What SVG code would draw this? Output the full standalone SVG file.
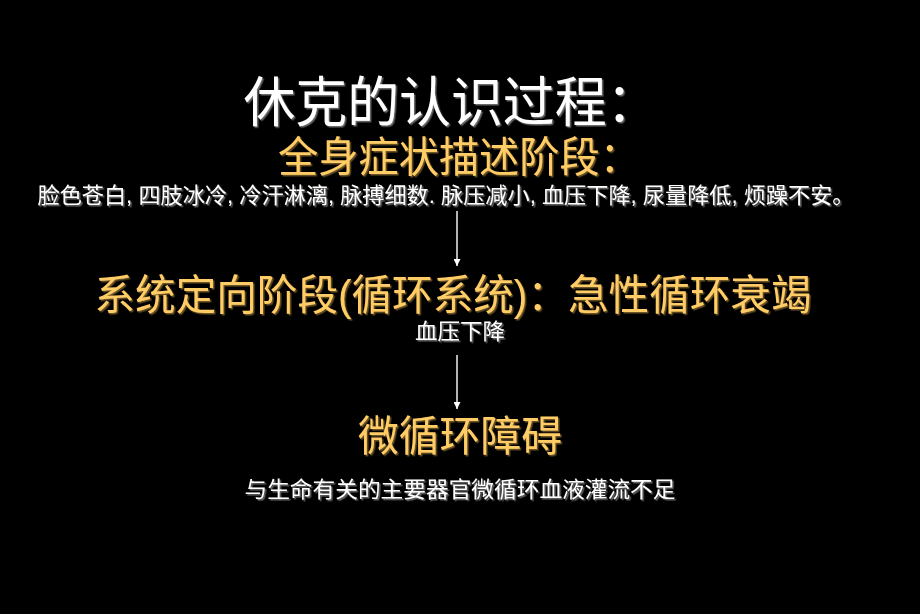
<svg xmlns="http://www.w3.org/2000/svg" width="920" height="614" viewBox="0 0 920 614">
<defs>
<style>
text{font-family:"Liberation Sans","Noto Sans CJK SC",sans-serif;text-anchor:middle}
.w{fill:#ffffff}
.o{fill:#ffcc66}
.big{font-size:42px}
.sm{font-size:22px}
.ttl{font-size:54px}
.conn{stroke:#ffffff;stroke-width:1.4;fill:none}
</style>
<filter id="sh2" x="-5%" y="-20%" width="110%" height="140%">
<feDropShadow dx="1.5" dy="1.5" stdDeviation="0.2" flood-color="#6b6b6b" flood-opacity="1"/>
</filter>
<filter id="sh3" x="-5%" y="-20%" width="110%" height="140%">
<feDropShadow dx="1.5" dy="1.5" stdDeviation="0.2" flood-color="#6b5226" flood-opacity="1"/>
</filter>
<marker id="ah" viewBox="0 0 10 10" refX="10" refY="5" markerWidth="7" markerHeight="7" markerUnits="userSpaceOnUse" orient="auto">
<path d="M0,0 L10,5 L0,10 z" fill="#ffffff"/>
</marker>
</defs>
<rect x="0" y="0" width="920" height="614" fill="#000000"/>
<g id="title">
<text class="w ttl" x="451" y="122" textLength="415" lengthAdjust="spacingAndGlyphs" filter="url(#sh2)">休克的认识过程：</text>
</g>
<g id="stage1">
<text class="o big" x="459" y="172" textLength="362" lengthAdjust="spacingAndGlyphs" filter="url(#sh3)">全身症状描述阶段：</text>
<text class="w sm" x="446" y="203" textLength="817" lengthAdjust="spacingAndGlyphs" filter="url(#sh2)">脸色苍白, 四肢冰冷, 冷汗淋漓, 脉搏细数. 脉压减小, 血压下降, 尿量降低, 烦躁不安。</text>
</g>
<g id="stage2">
<text class="o big" x="453" y="310" textLength="717" lengthAdjust="spacingAndGlyphs" filter="url(#sh3)">系统定向阶段(循环系统)：急性循环衰竭</text>
<text class="w sm" x="460" y="339" textLength="90" lengthAdjust="spacingAndGlyphs" filter="url(#sh2)">血压下降</text>
</g>
<g id="stage3">
<text class="o big" x="460" y="451" textLength="204" lengthAdjust="spacingAndGlyphs" filter="url(#sh3)">微循环障碍</text>
<text class="w sm" x="460" y="497" textLength="431" lengthAdjust="spacingAndGlyphs" filter="url(#sh2)">与生命有关的主要器官微循环血液灌流不足</text>
</g>
<g id="connectors">
<line class="conn" x1="457" y1="211" x2="457" y2="266" marker-end="url(#ah)"/>
<line class="conn" x1="457" y1="355" x2="457" y2="409" marker-end="url(#ah)"/>
</g>
</svg>
